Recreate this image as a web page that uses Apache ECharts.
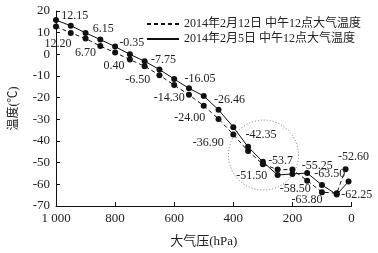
<!DOCTYPE html>
<html>
<head>
<meta charset="utf-8">
<script src="https://cdn.jsdelivr.net/npm/echarts@6/dist/echarts.min.js"></script>
<style>html,body{margin:0;padding:0;background:#fff;}#c{width:378px;height:253px;}</style>
</head>
<body>
<div id="c"></div>
<script>
// ---- data ----
const seriesNames = ['2014年2月12日 中午12点大气温度', '2014年2月5日 中午12点大气温度'];
const pressFeb12 = [1000, 950, 900, 850, 800, 750, 700, 650, 600, 550, 500, 450, 400, 350, 300, 250, 200, 150, 100, 50, 20];
const tempFeb12  = [12.8, 9.9, 7.3, 3.8, 0.8, -2.4, -5.5, -9.6, -14.2, -18.7, -23.7, -29.8, -37.0, -44.6, -50.7, -53.2, -53.2, -58.3, -63.6, -64.1, -53.0];
const labelFeb12 = ['12.20', '', '6.70', '', '0.40', '', '-6.50', '', '-14.30', '', '-24.00', '', '-36.90', '', '-51.50', '-53.7', '', '-58.50', '-63.80', '-63.50', '-52.60'];
const pressFeb5  = [1000, 950, 900, 850, 800, 750, 700, 650, 600, 550, 500, 450, 400, 350, 300, 250, 200, 150, 100, 50, 10];
const tempFeb5   = [15.8, 13.2, 9.9, 6.8, 3.6, 0.0, -3.2, -7.0, -11.4, -15.7, -19.2, -25.6, -33.6, -42.7, -49.6, -55.7, -55.2, -54.8, -60.3, -64.7, -58.7];
const labelFeb5  = ['', '12.15', '', '6.15', '', '-0.35', '', '-7.75', '', '-16.05', '', '-26.46', '', '-42.35', '', '', '', '-55.25', '', '-62.25', ''];
const xTicks = [0, 200, 400, 600, 800, 1000];
const yMin = -70, yMax = 20, yStep = 10;
const circleCenter = [298, -46.5];

// ---- layout (label offsets in px, not data) ----
const offFeb12 = [[2,17],null,[0,14],null,[-1,13],null,[-7,14],null,[-5,13],null,[-14,12],null,[-25,8],null,[-11,12],[3,-9],null,[-12,8],[-15,8],[-7,-19],[8,-12]];
const offFeb5  = [null,[4,-10],null,[3,-11],null,[2,-11],null,[4,-10],null,[11,-10],null,[11,-10],null,[13,-12],null,null,null,[10,-7],null,[20,0],null];

const FONT = '"Liberation Serif", "Noto Sans CJK SC", serif';
const TXT = '#222';

function build(press, temp, labels, offs) {
  return press.map((p, i) => {
    const d = { value: [p, temp[i]] };
    if (labels[i]) {
      d.label = { show: true, formatter: labels[i], position: 'inside', offset: offs[i] || [0, 0] };
    }
    return d;
  });
}

const chart = echarts.init(document.getElementById('c'), null, { renderer: 'canvas' });
const labelBase = { show: false, color: TXT, fontFamily: FONT, fontSize: 12, align: 'center', verticalAlign: 'middle' };

chart.setOption({
  animation: false,
  backgroundColor: '#fff',
  textStyle: { fontFamily: FONT },
  grid: { left: 49.5, right: 26.5, top: 11, bottom: 44.3, containLabel: false },
  legend: {
    orient: 'vertical', left: 141, top: 13, itemWidth: 32, itemHeight: 10, itemGap: 3,
    textStyle: { fontFamily: FONT, fontSize: 12, color: TXT, padding: [0,0,0,0] },
    itemStyle: { opacity: 0 },
    data: seriesNames
  },
  xAxis: {
    type: 'value', inverse: true, min: 0, max: 1000, interval: 200,
    name: '大气压(hPa)', nameLocation: 'middle', nameGap: 29,
    nameTextStyle: { fontFamily: FONT, fontSize: 13, color: TXT },
    axisLine: { onZero: false, lineStyle: { color: '#111', width: 1 } },
    axisTick: { inside: true, length: 4, lineStyle: { color: '#111' } },
    axisLabel: { margin: 6, fontSize: 13, color: TXT, fontFamily: FONT,
      formatter: v => v === 1000 ? '1 000' : String(v) },
    splitLine: { show: false }
  },
  yAxis: {
    type: 'value', min: yMin, max: yMax, interval: yStep,
    name: '温度(℃)', nameLocation: 'middle', nameGap: 36, nameRotate: 90,
    nameTextStyle: { fontFamily: FONT, fontSize: 12, color: TXT },
    axisLine: { show: true, onZero: false, lineStyle: { color: '#111', width: 1 } },
    axisTick: { show: true, inside: true, length: 4, lineStyle: { color: '#111' } },
    axisLabel: { margin: 6, fontSize: 13, color: TXT, fontFamily: FONT },
    splitLine: { show: false }
  },
  series: [
    {
      name: seriesNames[0], type: 'line',
      data: build(pressFeb12, tempFeb12, labelFeb12, offFeb12),
      symbol: 'circle', symbolSize: 6,
      itemStyle: { color: '#111' },
      lineStyle: { color: '#111', width: 1, type: [4, 3] },
      label: labelBase, z: 2
    },
    {
      name: seriesNames[1], type: 'line',
      data: build(pressFeb5, tempFeb5, labelFeb5, offFeb5),
      symbol: 'circle', symbolSize: 6,
      itemStyle: { color: '#111' },
      lineStyle: { color: '#111', width: 1, type: 'solid' },
      label: labelBase, z: 3
    }
  ]
});

const c = chart.convertToPixel({ gridIndex: 0 }, circleCenter);
chart.setOption({
  graphic: [{
    type: 'circle', shape: { cx: c[0], cy: c[1], r: 35 },
    style: { fill: 'none', stroke: '#777', lineWidth: 1, lineDash: [1, 2] }, z: 1
  }]
});
</script>
</body>
</html>
